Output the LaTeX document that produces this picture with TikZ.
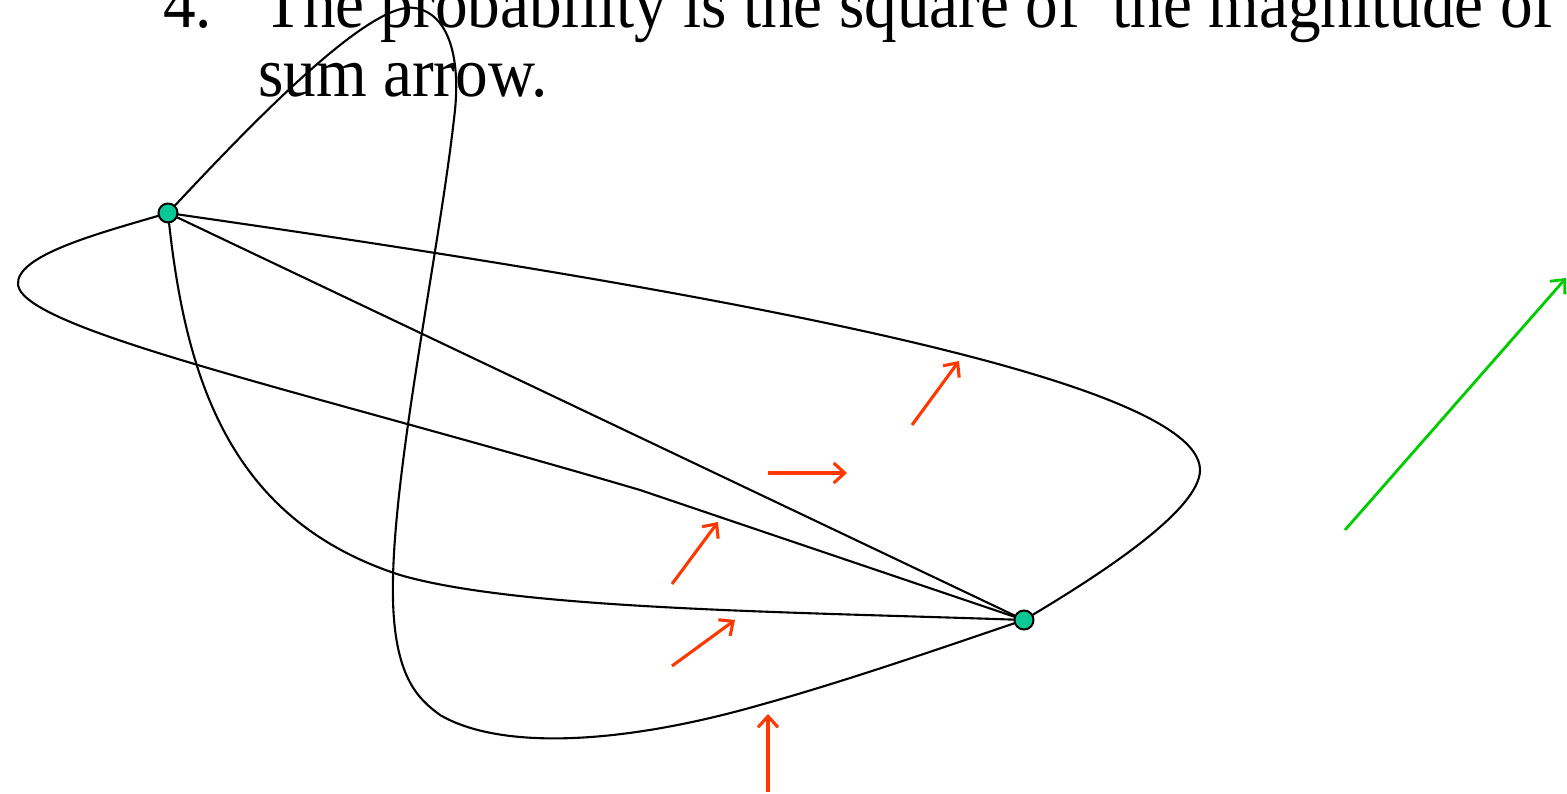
\documentclass[tikz,border=0pt]{standalone}
\usepackage{fontspec}
\setmainfont{Liberation Serif}
\usetikzlibrary{arrows.meta}
\definecolor{nodegreen}{RGB}{10,200,150}
\definecolor{arrred}{RGB}{255,55,0}
\definecolor{arrgreen}{RGB}{0,205,0}
\begin{document}
\begin{tikzpicture}[x=1pt,y=-1pt,
  path/.style={draw=black,line width=2.1pt},
  pt/.style={circle,draw=black,line width=2pt,fill=nodegreen,minimum size=19pt,inner sep=0pt},
  redarr/.style={draw=arrred,line width=3.1pt,-{Straight Barb[length=11pt,width=20pt]}},
  greenarr/.style={draw=arrgreen,line width=2.8pt,-{Straight Barb[length=11pt,width=20pt]}},
  txt/.style={anchor=base west,inner sep=0pt,xscale=1.035,yscale=1.12,transform shape,font=\fontsize{63}{69}\selectfont}]
\useasboundingbox (0,0) rectangle (1567,794);
% text
\node[txt] (num) at (163,28) {4.};
\node[txt] (l1) at (263,28) {The probability is the square of\ \ the magnitude of};
\node[txt] (l2) at (258,97) {sum arrow.};
% nodes
\coordinate (A) at (168,213);
\coordinate (B) at (1024,620);
% paths
\draw[path] (A) -- (B);
\draw[path] (A) .. controls (250,125) and (370,0) .. (415,8)
  .. controls (450,14) and (460,60) .. (455,110)
  .. controls (440,250) and (390,480) .. (393,600)
  .. controls (395,680) and (420,700) .. (440,715)
  .. controls (500,750) and (620,745) .. (760,705)
  .. controls (850,680) and (950,645) .. (B);
\draw[path] (A) .. controls (100,233) and (15,255) .. (18,285)
  .. controls (25,330) and (300,390) .. (640,490) -- (B);
\draw[path] (A) .. controls (600,275) and (1200,370) .. (1200,470)
  .. controls (1200,510) and (1100,575) .. (B);
\draw[path] (A) .. controls (185,380) and (230,520) .. (400,575)
  .. controls (520,610) and (800,612) .. (B);
\node[pt] (nA) at (A) {};
\node[pt] (nB) at (B) {};
% red arrows
\coordinate (r1s) at (768,792); \coordinate (r1e) at (768,714);
\coordinate (r2s) at (672,666); \coordinate (r2e) at (735,620);
\coordinate (r3s) at (672,584); \coordinate (r3e) at (718,522);
\coordinate (r4s) at (768,473); \coordinate (r4e) at (847,473);
\coordinate (r5s) at (912,425); \coordinate (r5e) at (959,361);
\draw[redarr] (r1s) -- (r1e);
\draw[redarr] (r2s) -- (r2e);
\draw[redarr] (r3s) -- (r3e);
\draw[redarr] (r4s) -- (r4e);
\draw[redarr] (r5s) -- (r5e);
% green arrow
\coordinate (gs) at (1345,530); \coordinate (ge) at (1566,278);
\draw[greenarr] (gs) -- (ge);
\end{tikzpicture}
\end{document}
